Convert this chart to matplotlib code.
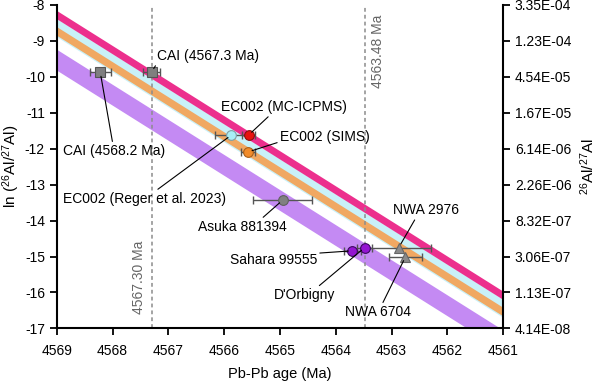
import numpy as np
import matplotlib
matplotlib.use("Agg")
import matplotlib.pyplot as plt

plt.rcParams['font.family'] = ['Liberation Sans', 'DejaVu Sans']
plt.rcParams['mathtext.fontset'] = 'custom'
plt.rcParams['mathtext.rm'] = 'Liberation Sans'
plt.rcParams['mathtext.default'] = 'regular'
plt.rcParams['axes.unicode_minus'] = False

# ---------------- data ----------------
half_life = 0.71          # Ma, 26Al
ref_age = 4565.0          # Ma, where band edges are given
band_names = ["cyan", "orange", "pink", "purple"]
band_top = [-12.28, -12.51, -12.06, -13.14]
band_bot = [-12.79, -12.75, -12.29, -13.72]
band_colors = ["#C9F1F8", "#F0A862", "#EC2F8D", "#C48AF3"]

names = ["CAI (4568.2 Ma)", "CAI (4567.3 Ma)", "EC002 (Reger et al. 2023)",
         "EC002 (MC-ICPMS)", "EC002 (SIMS)", "Asuka 881394",
         "Sahara 99555", "D'Orbigny", "NWA 2976", "NWA 6704"]
ages = [4568.22, 4567.30, 4565.87, 4565.56, 4565.57, 4564.95,
        4563.70, 4563.48, 4562.87, 4562.75]
age_err = [0.19, 0.15, 0.30, 0.12, 0.12, 0.53, 0.15, 0.13, 0.57, 0.30]
ln_ratio = [-9.87, -9.87, -11.62, -11.62, -12.09, -13.43,
            -14.84, -14.75, -14.75, -15.01]
markers = ["s", "s", "o", "o", "o", "o", "o", "o", "^", "^"]
face_colors = ["#7F7F7F", "#7F7F7F", "#A8EEF6", "#E8120F", "#F18B2A", "#808080",
               "#9414D2", "#9414D2", "#8A8A8A", "#8A8A8A"]
edge_colors = ["#555555", "#555555", "#7F9FA4", "#8A1010", "#A8601C", "#606060",
               "#3C0860", "#3C0860", "#666666", "#666666"]

# label text placement (x, y in data, relpos of leader start)
label_x = [4568.89, 4567.20, 4568.89, 4566.06, 4565.00, 4566.47,
           4565.90, 4565.10, 4562.97, 4563.84]
label_y = [-12.07, -9.42, -13.40, -10.84, -11.67, -14.18,
           -15.10, -16.08, -13.71, -16.55]
label_rel = [(0.49, 1.0), (0.0, 0.0), (0.56, 1.0), (0.40, 0.0), (0.0, 0.15),
             (0.70, 1.0), (0.90, 0.95), (0.68, 1.0), (0.35, 0.0), (0.56, 1.0)]

ref_lines = [4567.30, 4563.48]
ref_labels = ["4567.30 Ma", "4563.48 Ma"]
ref_label_x = [4567.53, 4563.25]
ref_label_y = [-15.59, -9.28]

yticks = [-8, -9, -10, -11, -12, -13, -14, -15, -16, -17]
right_ticklabels = ["3.35E-04", "1.23E-04", "4.54E-05", "1.67E-05", "6.14E-06",
                    "2.26E-06", "8.32E-07", "3.06E-07", "1.13E-07", "4.14E-08"]
xticks = [4569, 4568, 4567, 4566, 4565, 4564, 4563, 4562, 4561]

# ---------------- plot ----------------
fig = plt.figure(figsize=(6.0, 3.81), dpi=100)
ax = fig.add_axes([0.0945, 0.138, 0.744, 0.849])

lam = np.log(2) / half_life
t = np.linspace(4569, 4561, 200)
for top, bot, c in zip(band_top, band_bot, band_colors):
    ax.fill_between(t, top + lam * (t - ref_age), bot + lam * (t - ref_age),
                    color=c, lw=0, zorder=1)

for xv in ref_lines:
    ax.axvline(xv, color="#8C8C8C", lw=1.1, ls=(0, (2.5, 2)), zorder=2)
for xv, yv, s in zip(ref_label_x, ref_label_y, ref_labels):
    ax.text(xv, yv, s, rotation=90, ha="center", va="center",
            color="#666666", fontsize=10)

for i in range(len(names)):
    ax.errorbar(ages[i], ln_ratio[i], xerr=age_err[i], fmt="none",
                ecolor="#555555", elinewidth=1.0, capsize=2.8, capthick=1.0, zorder=3)
    ax.plot(ages[i], ln_ratio[i], marker=markers[i], ms=7 if markers[i] != "^" else 6.5,
            mfc=face_colors[i], mec=edge_colors[i], mew=0.8, ls="none", zorder=4)
    ax.annotate(names[i], xy=(ages[i], ln_ratio[i]), xytext=(label_x[i], label_y[i]),
                ha="left", va="center", fontsize=10, zorder=5,
                arrowprops=dict(arrowstyle="-", color="black", lw=0.8,
                                relpos=label_rel[i], shrinkA=0, shrinkB=3))

ax.set_xlim(4569, 4561)
ax.set_ylim(-17, -8)
ax.set_xticks(xticks)
ax.set_yticks(yticks)
ax.set_xticklabels([str(v) for v in xticks])
ax.set_yticklabels([str(v) for v in yticks])
ax.tick_params(direction="out", length=5, width=1.3, labelsize=10)
ax.tick_params(axis="x", pad=6)
for s in ["top", "right"]:
    ax.spines[s].set_visible(False)
for s in ["left", "bottom"]:
    ax.spines[s].set_linewidth(1.5)
ax.set_xlabel("Pb-Pb age (Ma)", fontsize=10.5, labelpad=7)
ax.set_ylabel(r"ln ($^{26}$Al/$^{27}$Al)", fontsize=11, labelpad=2)

ax2 = ax.twinx()
ax2.set_ylim(-17, -8)
ax2.set_yticks(yticks)
ax2.set_yticklabels(right_ticklabels)
ax2.tick_params(direction="out", length=5, width=1.3, labelsize=10)
for s in ["top", "left", "bottom"]:
    ax2.spines[s].set_visible(False)
ax2.spines["right"].set_linewidth(1.5)
ax2.set_ylabel(r"$^{26}$Al/$^{27}$Al", fontsize=11, labelpad=5)

fig.savefig("out.png", dpi=100)
